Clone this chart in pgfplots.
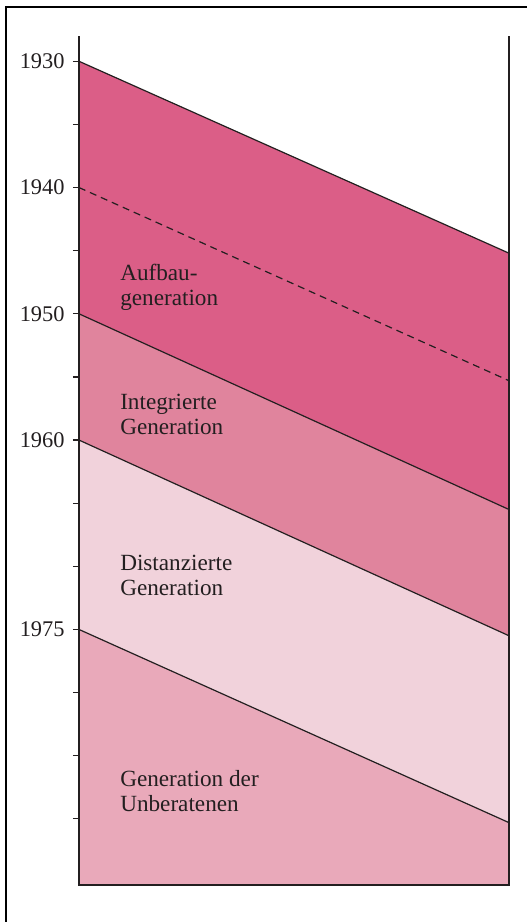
\documentclass[border=0pt]{standalone}
\usepackage{fontspec}
\setmainfont{Liberation Serif}
\usepackage{pgfplots}
\pgfplotsset{compat=1.18}
\definecolor{cA}{RGB}{219,94,135}
\definecolor{cB}{RGB}{224,132,157}
\definecolor{cC}{RGB}{241,210,219}
\definecolor{cD}{RGB}{233,169,186}
\definecolor{txt}{RGB}{35,31,32}
\begin{document}
\begin{tikzpicture}
\useasboundingbox (0,0) rectangle (263.5pt,-461pt);
\draw[line width=1.2pt, black] (3pt,-461pt) -- (3pt,-3.5pt) -- (263.5pt,-3.5pt);
\begin{axis}[
  at={(39.5pt,-442.5pt)}, anchor=south west,
  scale only axis, width=215pt, height=424.5pt,
  xmin=0, xmax=1, ymin=1928, ymax=1995.24, y dir=reverse,
  axis line style={draw=none},
  xtick=\empty,
  ytick={1930,1940,1950,1960,1975},
  minor ytick={1935,1945,1955,1965,1970,1980,1985,1990},
  ytick pos=left, tick align=outside,
  major tick length=3pt, minor tick length=3pt,
  tick style={txt, line width=0.6pt},
  yticklabel style={font=\fontsize{11.2}{13}\selectfont, text=txt, anchor=east, inner sep=0pt, xshift=-4pt},
  /pgf/number format/1000 sep={},
  /pgf/number format/assume math mode=true,
  clip=false,
]
\addplot[fill=cA, draw=none] coordinates {(0,1930) (1,1945.2) (1,1965.5) (0,1950)};
\addplot[fill=cB, draw=none] coordinates {(0,1950) (1,1965.5) (1,1975.5) (0,1960)};
\addplot[fill=cC, draw=none] coordinates {(0,1960) (1,1975.5) (1,1990.3) (0,1975)};
\addplot[fill=cD, draw=none] coordinates {(0,1975) (1,1990.3) (1,1995.24) (0,1995.24)};
\addplot[txt, line width=0.6pt] coordinates {(0,1930) (1,1945.2)};
\addplot[txt, line width=0.6pt, dash pattern=on 3.5pt off 2.5pt] coordinates {(0,1940) (1,1955.3)};
\addplot[txt, line width=0.6pt] coordinates {(0,1950) (1,1965.5)};
\addplot[txt, line width=0.6pt] coordinates {(0,1960) (1,1975.5)};
\addplot[txt, line width=0.6pt] coordinates {(0,1975) (1,1990.3)};
\draw[txt, line width=0.7pt] (axis cs:0,1928) -- (axis cs:0,1995.24) -- (axis cs:1,1995.24) -- (axis cs:1,1928);
\begin{scope}[every node/.style={anchor=north west, inner sep=0pt, align=left, text=txt, font=\fontsize{11.6}{12.5}\selectfont}]
\node at (axis cs:0.095,1946.0) {Aufbau-\\generation};
\node at (axis cs:0.095,1956.3) {Integrierte\\Generation};
\node at (axis cs:0.095,1969.1) {Distanzierte\\Generation};
\node at (axis cs:0.095,1986.1) {Generation der\\Unberatenen};
\end{scope}
\end{axis}
\end{tikzpicture}
\end{document}
